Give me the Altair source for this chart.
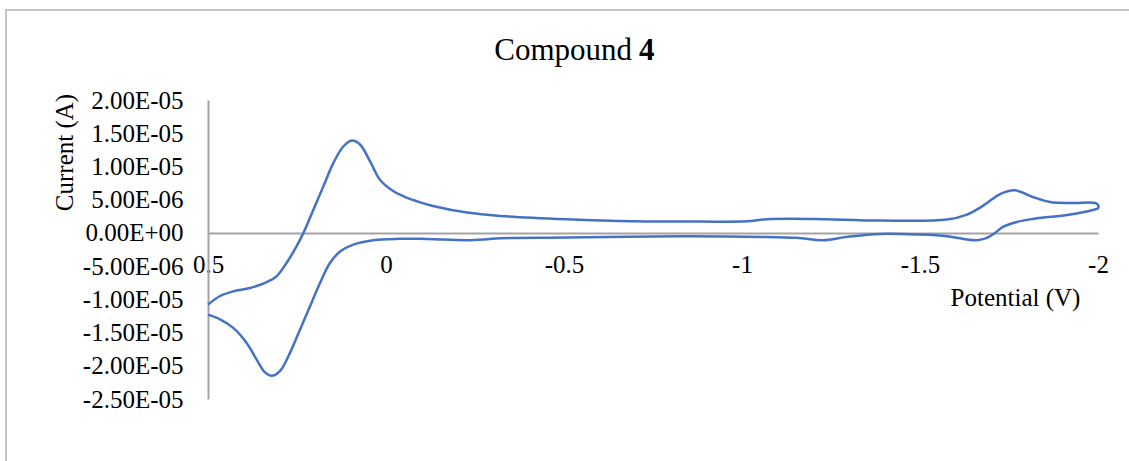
import altair as alt
import pandas as pd

# Forward branch (upper trace), potential in V, current in microamps
pot_forward = [0.5, 0.466, 0.429, 0.382, 0.335, 0.307, 0.279, 0.251, 0.232, 0.204, 0.176,
               0.148, 0.120, 0.096, 0.073, 0.045, 0.017, -0.020, -0.058, -0.096, -0.132,
               -0.228, -0.320, -0.508, -0.694, -0.882, -1.014, -1.070, -1.199, -1.388,
               -1.576, -1.632, -1.669, -1.688, -1.725, -1.767, -1.817, -1.865, -1.930,
               -1.992, -2.0]
cur_forward = [-10.8, -9.5, -8.8, -8.3, -7.4, -6.5, -4.5, -2.0, 0.0, 3.5, 7.0,
               10.5, 13.0, 13.9, 13.3, 10.8, 8.0, 6.3, 5.3, 4.6, 4.06,
               3.06, 2.56, 2.06, 1.76, 1.7, 1.75, 2.06, 2.1, 1.85,
               2.0, 2.75, 3.8, 4.5, 5.85, 6.4, 5.4, 4.65, 4.5,
               4.5, 4.2]

# Reverse branch (lower trace)
pot_reverse = [-2.0, -1.986, -1.913, -1.817, -1.772, -1.733, -1.711, -1.688, -1.660, -1.632,
               -1.576, -1.500, -1.388, -1.295, -1.228, -1.154, -1.059, -0.826, -0.508, -0.320,
               -0.284, -0.228, -0.160, -0.096, -0.039, 0.036, 0.092, 0.129, 0.157, 0.185,
               0.213, 0.242, 0.270, 0.298, 0.321, 0.340, 0.363, 0.391, 0.429, 0.466, 0.5]
cur_reverse = [3.7, 3.45, 2.7, 2.1, 1.65, 0.9, 0.0, -0.75, -1.1, -1.0,
               -0.5, -0.25, -0.15, -0.6, -1.1, -0.75, -0.6, -0.5, -0.7, -0.8,
               -0.95, -1.1, -1.0, -0.9, -0.9, -1.1, -1.76, -2.8, -4.5, -7.5,
               -11.0, -14.6, -18.1, -20.8, -21.5, -21.0, -19.1, -16.6, -14.3, -13.0, -12.3]

x_tick_values = [0.5, 0, -0.5, -1, -1.5, -2]
x_tick_labels = ["0.5", "0", "-0.5", "-1", "-1.5", "-2"]
y_tick_values = [-25, -20, -15, -10, -5, 0, 5, 10, 15, 20]
y_tick_labels = ["-2.50E-05", "-2.00E-05", "-1.50E-05", "-1.00E-05", "-5.00E-06",
                 "0.00E+00", "5.00E-06", "1.00E-05", "1.50E-05", "2.00E-05"]

pots = pot_forward + pot_reverse
curs = cur_forward + cur_reverse
df = pd.DataFrame({"potential": pots, "current": curs, "idx": list(range(len(pots)))})

FONT = "Liberation Serif"
GRAY = "#a3a3a3"

x_label_expr = "[" + ",".join(f"'{s}'" for s in x_tick_labels) + "][round((0.5 - datum.value) * 2)]"
y_label_expr = "[" + ",".join(f"'{s}'" for s in y_tick_labels) + "][round(datum.value / 5) + 5]"

line = alt.Chart(df).mark_line(color="#4472C4", strokeWidth=2.5, interpolate="catmull-rom").encode(
    x=alt.X("potential:Q",
            scale=alt.Scale(domain=[-2, 0.5], reverse=True, nice=False, zero=False),
            axis=alt.Axis(values=x_tick_values, labelExpr=x_label_expr, orient="bottom",
                          offset=-166, domainColor=GRAY, domainWidth=2, ticks=False,
                          tickSize=0, grid=False, labelFont=FONT, labelFontSize=25,
                          labelColor="black", labelPadding=19, labelFlush=False,
                          labelOverlap=False,
                          title="Potential (V)", titleFont=FONT, titleFontSize=25,
                          titleFontWeight="normal", titleColor="black",
                          titleX=807, titleY=72, titleAlign="center",
                          titleBaseline="alphabetic")),
    y=alt.Y("current:Q",
            scale=alt.Scale(domain=[-25, 20], nice=False, zero=False),
            axis=alt.Axis(values=y_tick_values, labelExpr=y_label_expr,
                          domainColor=GRAY, domainWidth=2, ticks=False, tickSize=0,
                          grid=False, labelFont=FONT, labelFontSize=25, labelColor="black",
                          labelPadding=25, labelOverlap=False, labelFlush=False,
                          title="Current (A)", titleFont=FONT, titleFontSize=25,
                          titleFontWeight="normal", titleColor="black",
                          titleAngle=-90, titleX=-136, titleY=52, titleAlign="center",
                          titleBaseline="alphabetic")),
    order="idx:Q",
)

one = pd.DataFrame({"a": [0]})

border = alt.Chart(one).mark_rect(fill="transparent", stroke="#c4c4c4", strokeWidth=2).encode(
    x=alt.value(-202), x2=alt.value(1000), y=alt.value(-90), y2=alt.value(450)
)

title_a = alt.Chart(one).mark_text(text="Compound", font=FONT, fontSize=31, align="right",
                                   baseline="alphabetic", color="black").encode(
    x=alt.value(424), y=alt.value(-40))
title_b = alt.Chart(one).mark_text(text="4", font=FONT, fontSize=31, fontWeight="bold",
                                   align="left", baseline="alphabetic", color="black").encode(
    x=alt.value(431), y=alt.value(-40))

chart = alt.layer(border, line, title_a, title_b).properties(
    width=890, height=299,
    autosize=alt.AutoSizeParams(type="none"),
    padding={"left": 208, "top": 100, "right": 31, "bottom": 62},
    background="white",
).configure_view(strokeWidth=0)

chart.save("out.html", embed_options={"renderer": "svg", "actions": False})
